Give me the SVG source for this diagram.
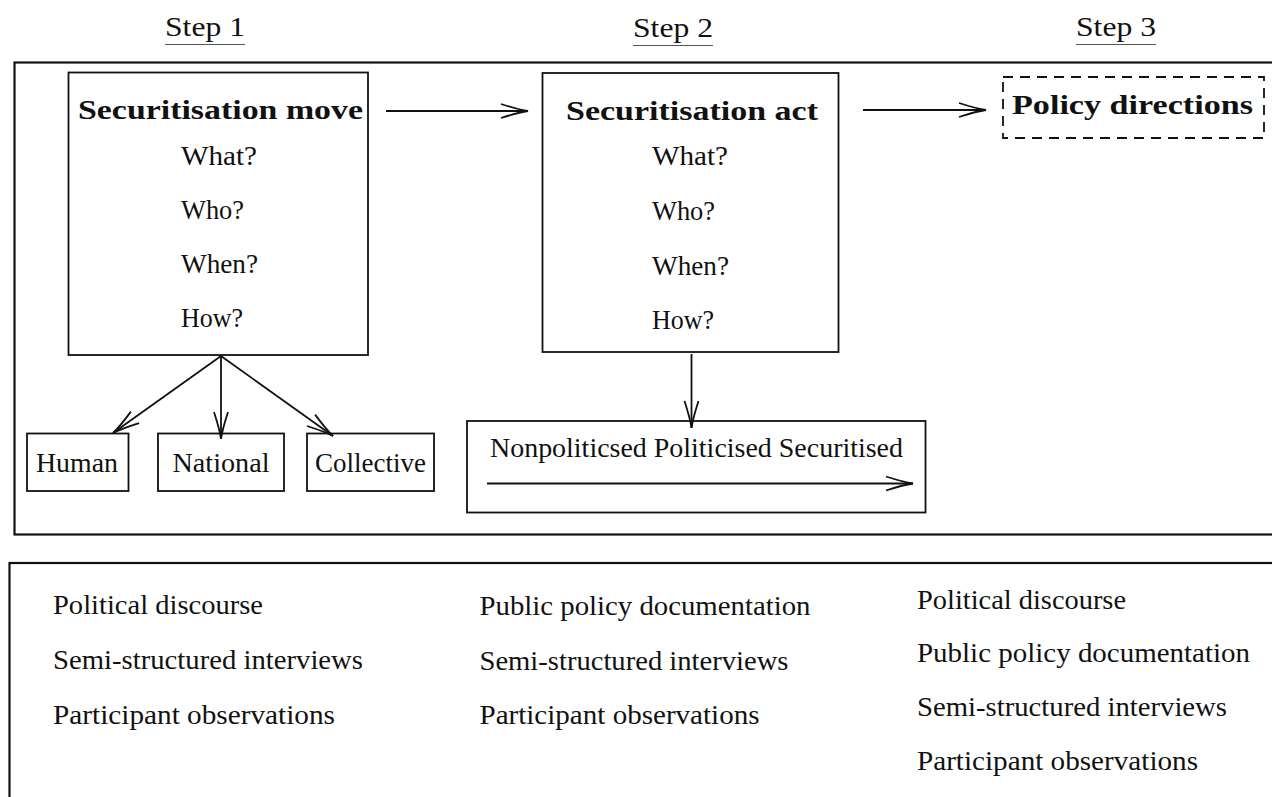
<svg xmlns="http://www.w3.org/2000/svg" width="1272" height="797" viewBox="0 0 1272 797">
<style>
.t{font-family:"Liberation Serif","Times New Roman",serif;font-size:27px;fill:#111;}
.b{font-family:"Liberation Serif","Times New Roman",serif;font-size:28px;font-weight:bold;fill:#111;}
.box{fill:none;stroke:#111;stroke-width:1.8;}
.frame{fill:none;stroke:#111;stroke-width:2.2;}
.con{fill:none;stroke:#111;stroke-width:1.8;}
.ul{stroke:#555;stroke-width:1.2;}
</style>
<defs>
<marker id="arr" markerUnits="userSpaceOnUse" markerWidth="30" markerHeight="16" refX="28" refY="8" orient="auto" overflow="visible">
<path d="M1,1 Q19,6.8 28,8 Q19,9.2 1,15" fill="none" stroke="#111" stroke-width="1.8"/>
</marker>
</defs>
<rect width="1272" height="797" fill="#fff"/>

<g id="step-labels">
<text class="t" x="165" y="36" textLength="80" lengthAdjust="spacingAndGlyphs">Step 1</text>
<line class="ul" x1="165" y1="44.5" x2="245" y2="44.5"/>
<text class="t" x="633" y="37" textLength="80" lengthAdjust="spacingAndGlyphs">Step 2</text>
<line class="ul" x1="633" y1="45.5" x2="713" y2="45.5"/>
<text class="t" x="1076" y="36" textLength="80" lengthAdjust="spacingAndGlyphs">Step 3</text>
<line class="ul" x1="1076" y1="44.5" x2="1156" y2="44.5"/>
</g>

<g id="frame-top">
<rect class="frame" x="14.5" y="62.5" width="1300" height="472"/>
</g>

<g id="securitisation-move">
<rect class="box" x="68.5" y="72.5" width="299.5" height="282.5"/>
<text class="b" x="78" y="118.5" textLength="285" lengthAdjust="spacingAndGlyphs">Securitisation move</text>
<text class="t" x="181" y="164.5" textLength="76" lengthAdjust="spacingAndGlyphs">What?</text>
<text class="t" x="181" y="218.5" textLength="63" lengthAdjust="spacingAndGlyphs">Who?</text>
<text class="t" x="181" y="273" textLength="77" lengthAdjust="spacingAndGlyphs">When?</text>
<text class="t" x="181" y="327" textLength="62" lengthAdjust="spacingAndGlyphs">How?</text>
</g>

<g id="securitisation-act">
<rect class="box" x="542.5" y="73" width="296" height="279"/>
<text class="b" x="566" y="119.5" textLength="252" lengthAdjust="spacingAndGlyphs">Securitisation act</text>
<text class="t" x="652" y="165" textLength="76" lengthAdjust="spacingAndGlyphs">What?</text>
<text class="t" x="652" y="219.5" textLength="63" lengthAdjust="spacingAndGlyphs">Who?</text>
<text class="t" x="652" y="275" textLength="77" lengthAdjust="spacingAndGlyphs">When?</text>
<text class="t" x="652" y="328.5" textLength="62" lengthAdjust="spacingAndGlyphs">How?</text>
</g>

<g id="policy-directions">
<rect class="box" x="1003" y="77" width="261" height="61" stroke-dasharray="10 7"/>
<text class="b" x="1012" y="114" textLength="241" lengthAdjust="spacingAndGlyphs">Policy directions</text>
</g>

<g id="human">
<rect class="box" x="27" y="433.5" width="101.5" height="57.5"/>
<text class="t" x="36" y="471.5" textLength="82" lengthAdjust="spacingAndGlyphs">Human</text>
</g>
<g id="national">
<rect class="box" x="158" y="433.5" width="126" height="57.5"/>
<text class="t" x="172.5" y="471.5" textLength="97" lengthAdjust="spacingAndGlyphs">National</text>
</g>
<g id="collective">
<rect class="box" x="307" y="433.5" width="127" height="57.5"/>
<text class="t" x="315" y="472" textLength="111" lengthAdjust="spacingAndGlyphs">Collective</text>
</g>

<g id="securitisation-scale">
<rect class="box" x="467" y="421" width="458.5" height="91.5"/>
<text class="t" x="490" y="456.5" textLength="413" lengthAdjust="spacingAndGlyphs">Nonpoliticsed Politicised Securitised</text>
<line class="con" x1="487" y1="483.5" x2="913" y2="483.5" marker-end="url(#arr)"/>
</g>

<g id="connectors">
<line class="con" x1="386" y1="111" x2="528" y2="111" marker-end="url(#arr)"/>
<line class="con" x1="863" y1="110" x2="986" y2="110" marker-end="url(#arr)"/>
<line class="con" x1="221" y1="356" x2="113" y2="433" marker-end="url(#arr)"/>
<line class="con" x1="221" y1="356" x2="221" y2="439" marker-end="url(#arr)"/>
<line class="con" x1="221" y1="356" x2="333" y2="436" marker-end="url(#arr)"/>
<line class="con" x1="691.5" y1="354" x2="691.5" y2="428" marker-end="url(#arr)"/>
</g>

<g id="frame-bottom">
<rect class="frame" x="9.5" y="563" width="1300" height="300"/>
</g>

<g id="methods-step1">
<text class="t" x="53" y="614" textLength="210" lengthAdjust="spacingAndGlyphs">Political discourse</text>
<text class="t" x="53" y="669" textLength="310" lengthAdjust="spacingAndGlyphs">Semi-structured interviews</text>
<text class="t" x="53" y="724" textLength="282" lengthAdjust="spacingAndGlyphs">Participant observations</text>
</g>
<g id="methods-step2">
<text class="t" x="479.5" y="615" textLength="331" lengthAdjust="spacingAndGlyphs">Public policy documentation</text>
<text class="t" x="479.5" y="669.5" textLength="309" lengthAdjust="spacingAndGlyphs">Semi-structured interviews</text>
<text class="t" x="479.5" y="724" textLength="280" lengthAdjust="spacingAndGlyphs">Participant observations</text>
</g>
<g id="methods-step3">
<text class="t" x="917" y="608.5" textLength="209" lengthAdjust="spacingAndGlyphs">Political discourse</text>
<text class="t" x="917" y="662" textLength="333" lengthAdjust="spacingAndGlyphs">Public policy documentation</text>
<text class="t" x="917" y="715.5" textLength="310" lengthAdjust="spacingAndGlyphs">Semi-structured interviews</text>
<text class="t" x="917" y="770" textLength="281" lengthAdjust="spacingAndGlyphs">Participant observations</text>
</g>
</svg>
